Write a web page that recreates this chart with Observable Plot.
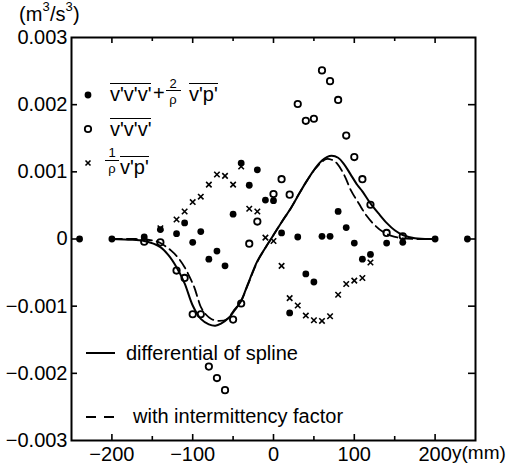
<!DOCTYPE html>
<html><head><meta charset="utf-8">
<script src="https://cdn.jsdelivr.net/npm/d3@7"></script>
<script src="https://cdn.jsdelivr.net/npm/@observablehq/plot@0.6"></script>
<style>
body{margin:0;background:#fff;font-family:"Liberation Sans",Arial,sans-serif;color:#000;}
#wrap{position:relative;width:507px;height:470px;overflow:hidden;}
.abs{position:absolute;white-space:nowrap;font-size:20px;line-height:20px;}
.sup{position:absolute;white-space:nowrap;font-size:13px;line-height:13px;}
.ov{display:inline-block;border-top:1.6px solid #000;line-height:20px;}
.num{position:absolute;font-size:13px;line-height:13px;text-align:center;}
.bar{position:absolute;height:0;border-top:1.5px solid #000;}
#ov{position:absolute;left:0;top:0;pointer-events:none;}
</style></head><body>
<div id="wrap"></div>
<script>
// ---- data ----
const sumX = [-240,-200,-160,-140,-120,-110,-100,-90,-80,-70,-60,-50,-40,-30,-20,-10,0,10,20,30,40,50,60,70,80,90,100,110,120,140,160,200,240];
const sumY = [0,0,0.00003,0.00014,0.00008,0.00024,-0.00005,0.00011,-0.0003,-0.00018,-0.0004,0.00037,0.00113,0.0008,0.00103,0.00058,0.00057,0.00009,-0.0011,0.00003,-0.00052,-0.00064,0.00004,0.00004,0.00041,0.00017,-0.00006,-0.0003,-0.00023,-0.00006,-0.00005,0,0];

const tripleX = [-160,-140,-120,-110,-100,-90,-80,-70,-60,-50,-40,-30,-20,0,10,20,30,40,50,60,70,80,90,100,110,120,140,160];
const tripleY = [-0.00004,-0.00005,-0.00047,-0.00058,-0.00112,-0.00112,-0.0019,-0.00207,-0.00225,-0.0012,-0.00096,-0.00007,0.00026,0.00067,0.00089,0.00066,0.00201,0.00176,0.00179,0.00251,0.00235,0.00207,0.00154,0.00122,0.00089,0.00051,0.00009,0.00004];

const pressX = [-140,-120,-110,-100,-90,-80,-70,-60,-50,-40,-30,-20,-10,0,10,20,30,40,50,60,70,80,90,100,110,120];
const pressY = [0.00016,0.00029,0.00041,0.00055,0.00063,0.00081,0.00096,0.00094,0.00081,0.00108,0.00045,0.00041,0.00002,-0.00003,-0.0004,-0.00088,-0.00099,-0.00114,-0.00121,-0.00122,-0.00115,-0.00083,-0.00067,-0.00062,-0.00058,-0.00035];

const splineX = [-200,-180,-160,-140,-130,-120,-110,-100,-90,-80,-72,-65,-55,-48,-40,-32,-20,-10,0,10,22,32,42,52,60,66,72,80,87,95,104,110,120,130,140,150,160,175,200];
const splineY = [0,-0.00001,-0.00003,-0.00012,-0.00024,-0.00042,-0.00066,-0.00099,-0.00119,-0.00127,-0.00129,-0.00126,-0.00117,-0.00106,-0.00092,-0.00068,-0.00033,-0.00013,0.00006,0.00025,0.00047,0.00068,0.00088,0.00106,0.00117,0.00122,0.00124,0.00121,0.00112,0.00097,0.0008,0.00071,0.00053,0.00038,0.00024,0.00013,0.00006,0.00001,0];

const interX = [-200,-170,-150,-140,-127,-118,-110,-104,-98,-94,-90,-84,-77,-67,-57,-50,-40,-32,-20,-10,0,10,22,32,42,52,60,65,72,79,88,96,106,115,125,135,145,160,200];
const interY = [0,0,-0.00002,-0.00006,-0.00017,-0.00028,-0.00042,-0.00056,-0.00072,-0.00087,-0.00101,-0.00112,-0.00119,-0.00122,-0.00119,-0.00108,-0.00092,-0.00069,-0.00034,-0.00013,0.00006,0.00025,0.00047,0.00068,0.00088,0.00105,0.00115,0.00119,0.00118,0.00112,0.00094,0.00072,0.00052,0.00035,0.00021,0.00011,0.00005,0.00001,0];

const xDomain = [-250, 250];
const yDomain = [-0.003, 0.003];
const xLabelTicks = [-200,-100,0,100,200];
const xMinorTicks = [-150,-50,50,150];
const yTicks = [-0.002,-0.001,0,0.001,0.002];
const yLabelTicks = [-0.003,-0.002,-0.001,0,0.001,0.002,0.003];

const W = 507, H = 470;

const pts = (xs, ys) => xs.map((x, i) => ({x, y: ys[i]}));
const sumData = pts(sumX, sumY);
const tripleData = pts(tripleX, tripleY);
const pressData = pts(pressX, pressY);
const splineData = pts(splineX, splineY);
const interData = pts(interX, interY);

const yFmt = d => d === 0 ? "0" : d3.format(".3f")(d);
const tk = {stroke: "black", strokeWidth: 1.6};

const chart = Plot.plot({
  width: W, height: H,
  marginLeft: 71, marginRight: 32, marginTop: 37, marginBottom: 30,
  style: {fontFamily: "'Liberation Sans', Arial, sans-serif", fontSize: "20px", background: "white", color: "black", overflow: "visible"},
  x: {domain: xDomain},
  y: {domain: yDomain},
  marks: [
    Plot.axisX(xLabelTicks, {anchor: "bottom", tickSize: 0, tickPadding: 6, tickFormat: d3.format("d"), label: null, fontSize: 20}),
    Plot.axisY(yLabelTicks, {anchor: "left", tickSize: 0, tickPadding: 4, tickFormat: yFmt, label: null, fontSize: 20}),
    // inward ticks (lengths in pixels converted through the domain spans)
    Plot.ruleX(xLabelTicks, {x: d => d, y1: yDomain[0], y2: yDomain[0] + 6 * 0.006 / 403, ...tk}),
    Plot.ruleX(xMinorTicks, {x: d => d, y1: yDomain[0], y2: yDomain[0] + 4 * 0.006 / 403, ...tk}),
    Plot.ruleX(xLabelTicks, {x: d => d, y1: yDomain[1], y2: yDomain[1] - 6 * 0.006 / 403, ...tk}),
    Plot.ruleX(xMinorTicks, {x: d => d, y1: yDomain[1], y2: yDomain[1] - 4 * 0.006 / 403, ...tk}),
    Plot.ruleY(yTicks, {y: d => d, x1: xDomain[0], x2: xDomain[0] + 6 * 500 / 404, ...tk}),
    Plot.ruleY(yTicks, {y: d => d, x1: xDomain[1], x2: xDomain[1] - 7 * 500 / 404, ...tk}),
    Plot.line(splineData, {x: "x", y: "y", curve: "catmull-rom", stroke: "black", strokeWidth: 2}),
    Plot.line(interData, {x: "x", y: "y", curve: "catmull-rom", stroke: "black", strokeWidth: 1.8, strokeDasharray: "10,5"}),
    Plot.dot(tripleData, {x: "x", y: "y", r: 3.2, stroke: "black", strokeWidth: 1.8, fill: "none"}),
    Plot.dot(sumData, {x: "x", y: "y", r: 3.4, fill: "black", stroke: "none"}),
    Plot.dot(pressData, {x: "x", y: "y", symbol: "times", r: 2.6, stroke: "black", strokeWidth: 1.6}),
    Plot.frame({stroke: "black", strokeWidth: 2})
  ]
});
const wrap = document.getElementById("wrap");
wrap.appendChild(chart);

// ---- legend swatches ----
const ns = "http://www.w3.org/2000/svg";
const ov = document.createElementNS(ns, "svg");
ov.setAttribute("id", "ov"); ov.setAttribute("width", W); ov.setAttribute("height", H);
ov.innerHTML = `
  <circle cx="88" cy="95" r="3.4" fill="black"/>
  <circle cx="88" cy="129" r="3.2" fill="none" stroke="black" stroke-width="1.8"/>
  <path d="M85.5,160.5L90.5,165.5M90.5,160.5L85.5,165.5" stroke="black" stroke-width="1.6"/>
  <line x1="86" y1="353" x2="115" y2="353" stroke="black" stroke-width="2"/>
  <line x1="86" y1="417" x2="115" y2="417" stroke="black" stroke-width="1.8" stroke-dasharray="10,8"/>
`;
wrap.appendChild(ov);

// ---- legend & axis titles (real text) ----
const html = `
<div class="abs" style="left:19px;top:4px">(m</div>
<div class="sup" style="left:42.5px;top:0px">3</div>
<div class="abs" style="left:50px;top:4px">/s</div>
<div class="sup" style="left:65.5px;top:0px">3</div>
<div class="abs" style="left:73px;top:4px">)</div>
<div class="abs" style="left:452px;top:443px;font-size:19px">y(mm)</div>

<div class="abs" style="left:110px;top:83px"><span class="ov">v'v'v'</span></div>
<div class="abs" style="left:153px;top:83px">+</div>
<div class="num" style="left:166px;width:14px;top:77px">2</div>
<div class="bar" style="left:166px;width:15px;top:89.5px"></div>
<div class="num" style="left:166px;width:14px;top:92.5px">ρ</div>
<div class="abs" style="left:189px;top:83px"><span class="ov">v'p'</span></div>

<div class="abs" style="left:110px;top:118px"><span class="ov">v'v'v'</span></div>

<div class="num" style="left:104px;width:16px;top:146px">1</div>
<div class="bar" style="left:105px;width:14px;top:160px"></div>
<div class="num" style="left:104px;width:16px;top:161.5px">ρ</div>
<div class="abs" style="left:120px;top:156px"><span class="ov" style="border-top-width:1.4px">v'p'</span></div>

<div class="abs" style="left:126px;top:343px">differential of spline</div>
<div class="abs" style="left:133px;top:406px">with intermittency factor</div>
`;
wrap.insertAdjacentHTML("beforeend", html);
</script>
</body></html>
